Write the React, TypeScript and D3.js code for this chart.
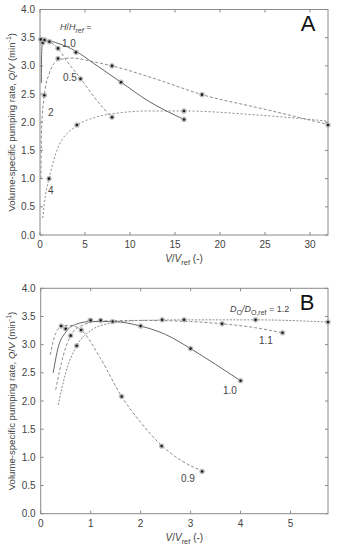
import * as d3 from "d3";

// ---- panel A: H/Href series (model curves + measured points) ----
const aXTicks = [0, 5, 10, 15, 20, 25, 30];
const yTicks = [0, 0.5, 1, 1.5, 2, 2.5, 3, 3.5, 4];

const a05Curve = [[0.2, 3.46], [1, 3.43], [2, 3.31], [3, 3.08], [4.5, 2.78], [6, 2.45], [8, 2.08]];
const a05Pts = [[0.3, 3.41], [2, 3.31], [4.5, 2.77], [8, 2.09]];
const a10Curve = [[0.15, 2.7], [0.18, 3.2], [0.3, 3.44], [1, 3.44], [2, 3.4], [4, 3.26], [6, 3.04], [9, 2.71], [12, 2.38], [16, 2.05]];
const a10Pts = [[0.08, 3.47], [0.5, 3.46], [1.05, 3.43], [4, 3.24], [9, 2.71], [16, 2.05]];
const a2Curve = [[0.1, 1.0], [0.18, 1.9], [0.48, 2.48], [1, 2.85], [2, 3.1], [3.5, 3.14], [6, 3.07], [8, 3.0], [13, 2.76], [18, 2.49], [25, 2.23], [32, 1.96]];
const a2Pts = [[0.48, 2.48], [2, 3.13], [8, 3.0], [18, 2.49], [32, 1.95]];
const a4Curve = [[0.3, 0.3], [0.6, 0.7], [1, 1.0], [2, 1.55], [4, 1.93], [6, 2.08], [9, 2.17], [12, 2.2], [16, 2.2], [24, 2.13], [32, 2.02]];
const a4Pts = [[1, 1.0], [4.1, 1.95], [16, 2.2]];

// ---- panel B: DO/DO,ref series ----
const bXTicks = [0, 1, 2, 3, 4, 5];
const b09Curve = [[0.19, 2.82], [0.3, 3.2], [0.45, 3.34], [0.6, 3.34], [0.81, 3.26], [1.2, 2.75], [1.62, 2.08], [2, 1.62], [2.42, 1.21], [2.8, 0.95], [3.23, 0.76]];
const b09Pts = [[0.41, 3.33], [0.81, 3.26], [1.62, 2.08], [2.42, 1.2], [3.23, 0.75]];
const b10Curve = [[0.25, 2.5], [0.35, 2.95], [0.5, 3.22], [0.7, 3.36], [1, 3.41], [1.44, 3.41], [2, 3.33], [2.5, 3.18], [3, 2.93], [3.5, 2.65], [4, 2.36]];
const b10Pts = [[0.5, 3.28], [1, 3.43], [1.44, 3.41], [2, 3.33], [3, 2.93], [4, 2.36]];
const b11Curve = [[0.3, 2.2], [0.45, 2.8], [0.6, 3.16], [0.8, 3.33], [1.2, 3.42], [2, 3.43], [3, 3.41], [3.63, 3.37], [4.3, 3.3], [4.84, 3.21]];
const b11Pts = [[0.6, 3.16], [1.2, 3.43], [3.63, 3.37], [4.84, 3.21]];
const b12Curve = [[0.35, 1.93], [0.5, 2.5], [0.72, 2.98], [1, 3.25], [1.4, 3.38], [2, 3.43], [3, 3.44], [4.3, 3.44], [5.75, 3.4]];
const b12Pts = [[0.72, 2.98], [0.99, 3.43], [2.43, 3.44], [2.87, 3.44], [4.3, 3.44], [5.75, 3.4]];

const font = "'Liberation Sans', Arial, sans-serif";
const axisCol = "#8a8a8a";
const textCol = "#444";

type Pt = number[];

function Marker({ cx, cy }: { cx: number; cy: number }) {
  return (
    <g>
      <circle cx={cx} cy={cy} r={2.4} fill="#c4c4c4" stroke="#999" strokeWidth={0.5} />
      <circle cx={cx} cy={cy} r={1.3} fill="#1a1a1a" />
    </g>
  );
}

function Panel({
  top, bottom, left, right, xMax, xTicks, series, children,
}: {
  top: number; bottom: number; left: number; right: number; xMax: number;
  xTicks: number[];
  series: { curve: Pt[]; pts: Pt[]; dash: string | null }[];
  children: (x: d3.ScaleLinear<number, number>, y: d3.ScaleLinear<number, number>) => any;
}) {
  const x = d3.scaleLinear().domain([0, xMax]).range([left, right]);
  const y = d3.scaleLinear().domain([0, 4]).range([bottom, top]);
  const line = d3
    .line<Pt>()
    .x((d) => x(d[0]))
    .y((d) => y(d[1]))
    .curve(d3.curveMonotoneX);
  const tl = 3;
  return (
    <g fontFamily={font}>
      <rect x={left} y={top} width={right - left} height={bottom - top} fill="none" stroke={axisCol} strokeWidth={1} />
      {yTicks.map((t) => (
        <g key={"y" + t}>
          <line x1={left} x2={left + tl} y1={y(t)} y2={y(t)} stroke={axisCol} />
          <line x1={right} x2={right - tl} y1={y(t)} y2={y(t)} stroke={axisCol} />
          <text x={left - 5} y={y(t) + 3.5} textAnchor="end" fontSize={10} fill={textCol}>
            {t.toFixed(1)}
          </text>
        </g>
      ))}
      {xTicks.map((t) => (
        <g key={"x" + t}>
          <line x1={x(t)} x2={x(t)} y1={bottom} y2={bottom - tl} stroke={axisCol} />
          <line x1={x(t)} x2={x(t)} y1={top} y2={top + tl} stroke={axisCol} />
          <text x={x(t)} y={bottom + 13} textAnchor="middle" fontSize={10} fill={textCol}>
            {t}
          </text>
        </g>
      ))}
      {series.map((s, i) => (
        <path
          key={"c" + i}
          d={line(s.curve) || ""}
          fill="none"
          stroke={s.dash ? "#8c8c8c" : "#666"}
          strokeWidth={1}
          strokeDasharray={s.dash || undefined}
        />
      ))}
      {series.map((s, i) => (
        <g key={"p" + i}>
          {s.pts.map((p, j) => (
            <Marker key={j} cx={x(p[0])} cy={y(p[1])} />
          ))}
        </g>
      ))}
      <text
        transform={`translate(15,${(top + bottom) / 2}) rotate(-90)`}
        textAnchor="middle"
        fontSize={9.6}
        fill={textCol}
      >
        Volume-specific pumping rate, <tspan fontStyle="italic">Q</tspan>/<tspan fontStyle="italic">V</tspan> (min
        <tspan dy={-4} fontSize={7}>-1</tspan>
        <tspan dy={4}>)</tspan>
      </text>
      <text x={(left + right) / 2} y={bottom + 27} textAnchor="middle" fontSize={10} fill={textCol}>
        <tspan fontStyle="italic">V</tspan>/<tspan fontStyle="italic">V</tspan>
        <tspan dy={3} fontSize={7.5}>ref</tspan>
        <tspan dy={-3}> (-)</tspan>
      </text>
      {children(x, y)}
    </g>
  );
}

export default function App() {
  return (
    <svg width={337} height={550} style={{ position: "absolute", left: 0, top: 0, background: "#fff" }}>
      <Panel
        top={9.5}
        bottom={235}
        left={40}
        right={328}
        xMax={32}
        xTicks={aXTicks}
        series={[
          { curve: a05Curve, pts: a05Pts, dash: "3,2" },
          { curve: a2Curve, pts: a2Pts, dash: "3,2" },
          { curve: a4Curve, pts: a4Pts, dash: "2,2" },
          { curve: a10Curve, pts: a10Pts, dash: null },
        ]}
      >
        {() => (
          <g fill={textCol} fontSize={10}>
            <text x={308} y={31} fontSize={22} fill="#111" textAnchor="middle">A</text>
            <text x={60} y={30} fontSize={9}>
              <tspan fontStyle="italic">H</tspan>/<tspan fontStyle="italic">H</tspan>
              <tspan dy={3} fontSize={7} fontStyle="italic">ref</tspan>
              <tspan dy={-3}> =</tspan>
            </text>
            <text x={62} y={47}>1.0</text>
            <text x={63} y={81}>0.5</text>
            <text x={48} y={116}>2</text>
            <text x={48} y={194}>4</text>
          </g>
        )}
      </Panel>
      <Panel
        top={288.3}
        bottom={513.7}
        left={40.7}
        right={328}
        xMax={5.75}
        xTicks={bXTicks}
        series={[
          { curve: b09Curve, pts: b09Pts, dash: "3,2" },
          { curve: b11Curve, pts: b11Pts, dash: "3,2" },
          { curve: b12Curve, pts: b12Pts, dash: "2,1.5" },
          { curve: b10Curve, pts: b10Pts, dash: null },
        ]}
      >
        {() => (
          <g fill={textCol} fontSize={10}>
            <text x={307} y={310} fontSize={22} fill="#111" textAnchor="middle">B</text>
            <text x={230} y={312} fontSize={9}>
              <tspan fontStyle="italic">D</tspan>
              <tspan dy={3} fontSize={7}>O</tspan>
              <tspan dy={-3} fontStyle="italic">/D</tspan>
              <tspan dy={3} fontSize={7}>O,ref</tspan>
              <tspan dy={-3}> = 1.2</tspan>
            </text>
            <text x={259} y={344}>1.1</text>
            <text x={223} y={394}>1.0</text>
            <text x={181} y={482}>0.9</text>
          </g>
        )}
      </Panel>
    </svg>
  );
}
